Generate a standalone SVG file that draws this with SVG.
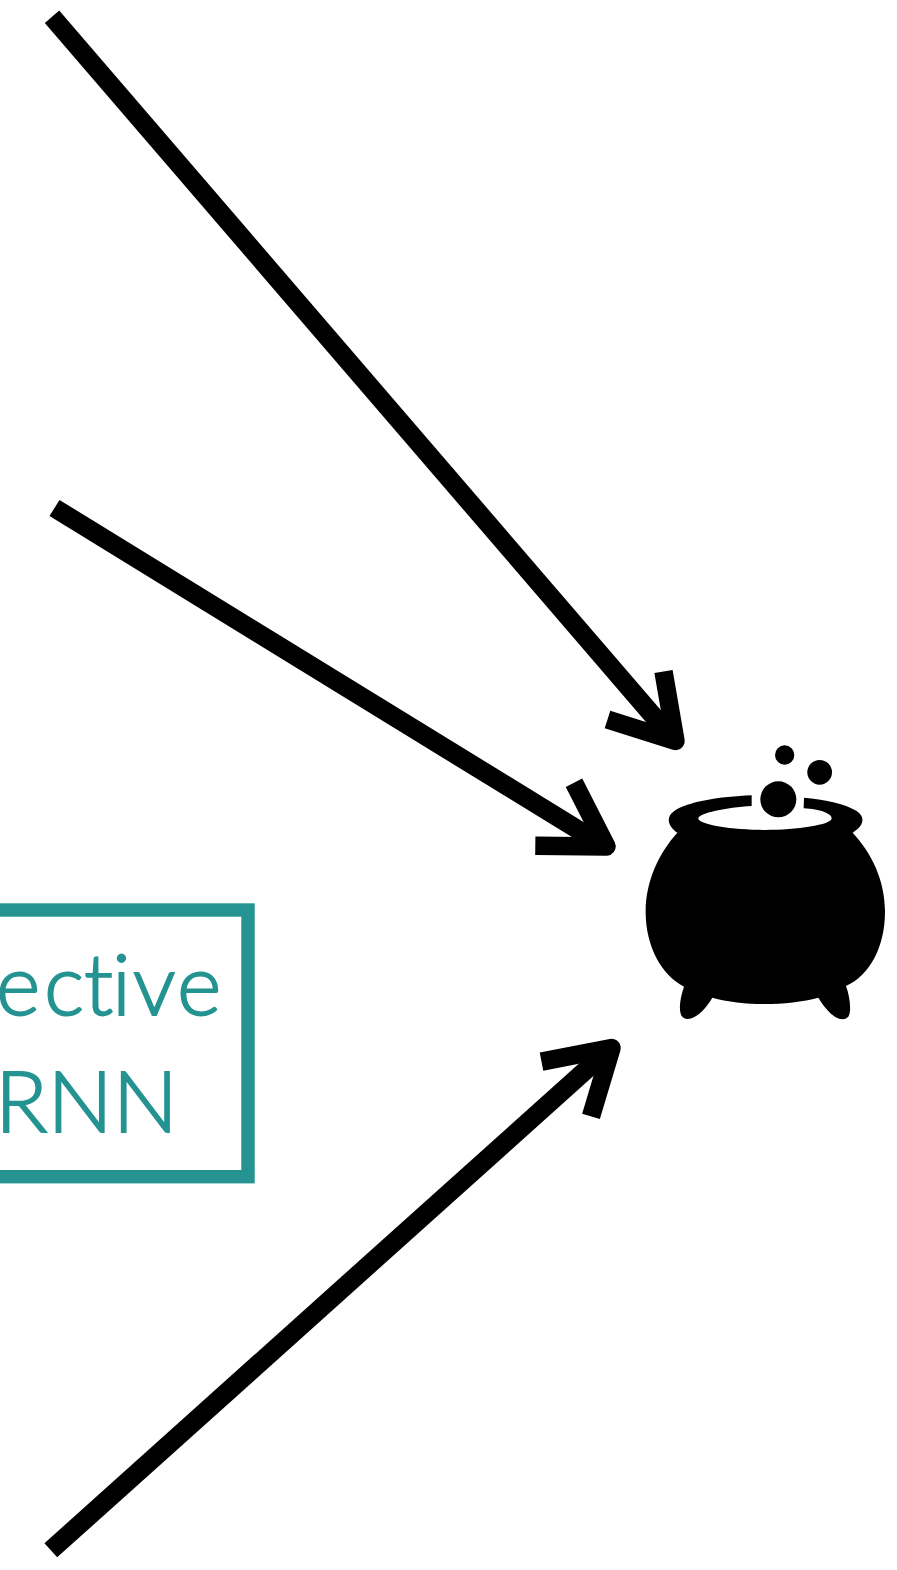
<svg xmlns="http://www.w3.org/2000/svg" width="897" height="1570" viewBox="0 0 897 1570">
<style>
.shaft{fill:none;stroke:#000;stroke-width:19}
.head{fill:none;stroke:#000;stroke-width:18.5;stroke-linejoin:round}
.lbl{font-family:Lato,"Open Sans",sans-serif;font-weight:300;fill:#249391;stroke:#249391;stroke-width:1.800;font-variant-ligatures:none}
</style>
<rect width="897" height="1570" fill="#fff"/>
<g id="connectors">
<g id="arrow-1"><path class="shaft" d="M52 16.700L668 733"/><path class="head" d="M663.500 671.500L675.500 741L607.500 719.500"/></g>
<g id="arrow-2"><path class="shaft" d="M54.500 508L598 842"/><path class="head" d="M574 782.800L606.500 846.500L535.300 845.700"/></g>
<g id="arrow-3"><path class="shaft" d="M50.800 1550.300L606 1052"/><path class="head" d="M541.500 1061.700L611.500 1048L591 1116.300"/></g>
</g>
<g id="rnn-box">
<rect x="-30" y="910" width="278" height="266.700" fill="none" stroke="#249391" stroke-width="13.400"/>
<text class="lbl" x="-4 44 84 112 133 177" y="1014.500" font-size="85">ective</text>
<text class="lbl" x="-5" y="1132" font-size="85" textLength="183" lengthAdjust="spacingAndGlyphs">RNN</text>
</g>
<g id="cauldron" transform="translate(620 730) scale(.33333)">
<path d="M395 196C300 200 200 215 160 245C140 260 140 285 172 308C120 365 77 450 77 545C77 650 125 735 192 770C180 805 175 840 185 858C200 878 240 865 277 803C320 815 380 822 432 822C490 822 550 815 595 803C630 860 665 880 685 860C695 845 690 800 678 768C750 735 795 650 795 545C795 450 755 370 698 308C735 285 735 260 710 243C675 220 610 208 552 203L551 235C600 238 635 250 635 265C635 285 530 300 435 300C340 300 235 285 235 265C235 250 320 232 395 228Z"/>
<circle cx="475" cy="208" r="54"/>
<circle cx="494" cy="75" r="29"/>
<circle cx="599" cy="127" r="37"/>
</g>
</svg>
